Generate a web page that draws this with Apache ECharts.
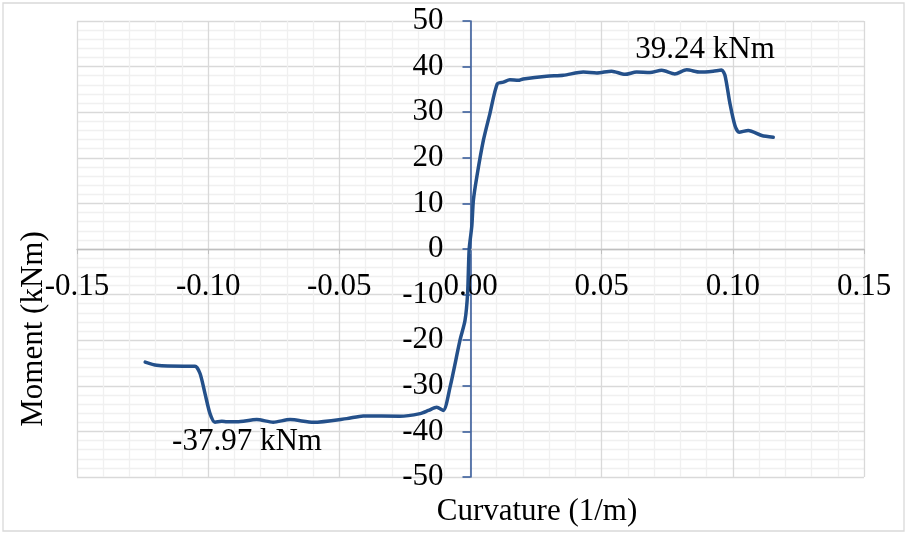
<!DOCTYPE html>
<html>
<head>
<meta charset="utf-8">
<script src="https://cdn.jsdelivr.net/npm/echarts@6/dist/echarts.min.js"></script>
<style>html,body{margin:0;padding:0;background:#fff}#c{width:908px;height:534px}</style>
</head>
<body>
<div id="c"></div>
<script>
const curvature = [-0.124, -0.1196, -0.1094, -0.105, -0.1031, -0.1012, -0.0993, -0.0974, -0.0948, -0.0929, -0.0891, -0.0815, -0.0752, -0.0688, -0.0599, -0.0472, -0.0409, -0.0269, -0.0192, -0.016, -0.0129, -0.0104, -0.0078, -0.004, -0.0021, -0.0011, -0.0005, 0.0005, 0.0011, 0.0024, 0.0049, 0.0074, 0.0102, 0.0125, 0.015, 0.0182, 0.0201, 0.029, 0.0354, 0.043, 0.0481, 0.0538, 0.0589, 0.0633, 0.0684, 0.0729, 0.0779, 0.0824, 0.0875, 0.0925, 0.0957, 0.097, 0.0989, 0.1008, 0.1024, 0.1059, 0.111, 0.1154];
const moment = [-24.8, -25.5, -25.7, -25.7, -27.3, -31.7, -36.1, -37.97, -37.8, -37.9, -37.9, -37.4, -38.0, -37.4, -38.0, -37.2, -36.6, -36.7, -36.1, -35.4, -34.7, -35.4, -30.3, -20.0, -15.7, -9.7, 0.0, 5.0, 10.7, 15.8, 23.8, 29.7, 36.2, 36.6, 37.1, 37.0, 37.3, 37.9, 38.1, 38.8, 38.6, 39.0, 38.3, 38.8, 38.7, 39.2, 38.4, 39.3, 38.8, 39.0, 39.24, 38.1, 31.9, 27.1, 25.6, 26.0, 24.9, 24.5];
const xTicks = [-0.15, -0.10, -0.05, 0.00, 0.05, 0.10, 0.15];
const yTicks = [-50, -40, -30, -20, -10, 0, 10, 20, 30, 40, 50];
const xTitle = 'Curvature (1/m)';
const yTitle = 'Moment (kNm)';
const maxNote = '39.24 kNm';
const minNote = '-37.97 kNm';

const FONT = "'Liberation Serif','Times New Roman',serif";
const FS = 31;
const GL = 77, GR = 44, GT = 21, GB = 57;
const W = 908, H = 534;
const plotW = W - GL - GR, plotH = H - GT - GB;
const xMin = xTicks[0], xMax = xTicks[xTicks.length - 1];
const yMin = yTicks[0], yMax = yTicks[yTicks.length - 1];
const yAxisOffset = -plotW * (0 - xMin) / (xMax - xMin);
const xAxisOffset = -plotH * (0 - yMin) / (yMax - yMin);

const chart = echarts.init(document.getElementById('c'), null, {renderer: 'canvas'});
chart.setOption({
  animation: false,
  backgroundColor: '#fff',
  grid: {left: GL, right: GR, top: GT, bottom: GB, containLabel: false},
  xAxis: {
    type: 'value', min: xMin, max: xMax, interval: 0.05, position: 'bottom', offset: xAxisOffset,
    axisLine: {onZero: false, lineStyle: {color: '#bfbfbf', width: 1.3}},
    axisTick: {show: true, inside: false, length: 5, lineStyle: {color: '#bfbfbf'}},
    axisLabel: {margin: 22, fontFamily: FONT, fontSize: FS, color: '#000',
      formatter: v => v.toFixed(2)},
    splitLine: {show: true, lineStyle: {color: '#d9d9d9', width: 1.3}},
    minorTick: {show: false, splitNumber: 5},
    minorSplitLine: {show: true, lineStyle: {color: '#f0f0f0', width: 1.3}}
  },
  yAxis: {
    type: 'value', min: yMin, max: yMax, interval: 10, position: 'left', offset: yAxisOffset,
    axisLine: {onZero: false, lineStyle: {color: '#2f5597', width: 1.5}},
    axisTick: {show: true, inside: false, length: 8, lineStyle: {color: '#2f5597', width: 1.5}},
    axisLabel: {margin: 27, fontFamily: FONT, fontSize: FS, color: '#000',
      formatter: v => String(v)},
    splitLine: {show: true, lineStyle: {color: '#d9d9d9', width: 1.3}},
    minorTick: {show: false, splitNumber: 5},
    minorSplitLine: {show: true, lineStyle: {color: '#f0f0f0', width: 1.3}}
  },
  series: [{
    type: 'line',
    data: curvature.map((c, i) => [c, moment[i]]),
    showSymbol: false,
    smooth: 0.25,
    lineStyle: {color: '#24508a', width: 3.5, cap: 'round', join: 'round'},
    z: 5
  }],
  graphic: [
    {type: 'rect', shape: {x: 3, y: 3, width: 901, height: 528}, style: {fill: 'none', stroke: '#d9d9d9', lineWidth: 1.3}, silent: true, z: -1},
    {type: 'text', x: 537, y: 512, style: {text: xTitle, font: FS + 'px ' + FONT, fill: '#000', align: 'center', verticalAlign: 'middle', textAlign: 'center', textVerticalAlign: 'middle'}},
    {type: 'text', x: 34, y: 329, rotation: Math.PI / 2, style: {text: yTitle, font: FS + 'px ' + FONT, fill: '#000', align: 'center', verticalAlign: 'middle', textAlign: 'center', textVerticalAlign: 'middle'}},
    {type: 'text', x: 705, y: 50, style: {text: maxNote, font: FS + 'px ' + FONT, fill: '#000', align: 'center', verticalAlign: 'middle', textAlign: 'center', textVerticalAlign: 'middle'}, z: 10},
    {type: 'text', x: 247, y: 442, style: {text: minNote, font: FS + 'px ' + FONT, fill: '#000', align: 'center', verticalAlign: 'middle', textAlign: 'center', textVerticalAlign: 'middle'}, z: 10}
  ]
});
</script>
</body>
</html>
